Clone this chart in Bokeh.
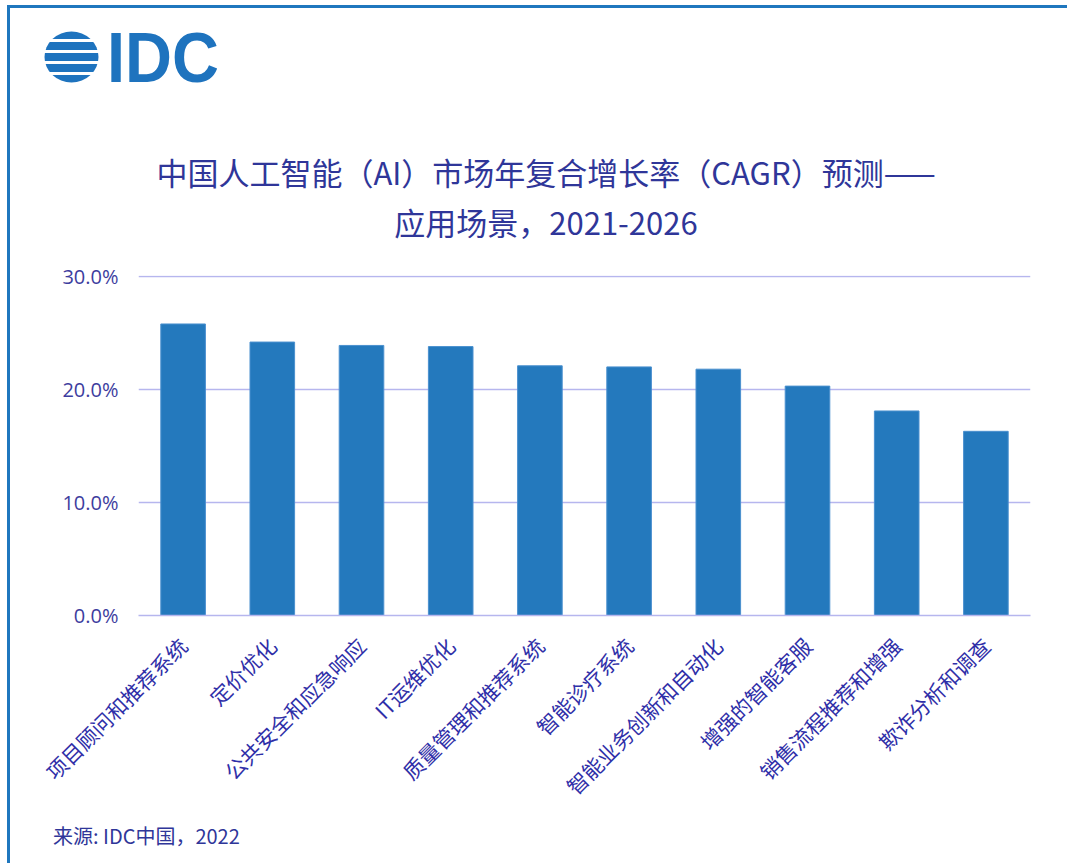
import math
from bokeh.plotting import figure
from bokeh.models import ColumnDataSource
from bokeh.models import FixedTicker, PrintfTickFormatter, Div, Range1d
from bokeh.layouts import column
from bokeh.embed import file_html
from bokeh.resources import INLINE

categories = ["项目顾问和推荐系统", "定价优化", "公共安全和应急响应", "IT运维优化",
              "质量管理和推荐系统", "智能诊疗系统", "智能业务创新和自动化",
              "增强的智能客服", "销售流程推荐和增强", "欺诈分析和调查"]
cagr = [25.8, 24.2, 23.9, 23.8, 22.1, 22.0, 21.8, 20.3, 18.1, 16.3]
y_ticks = [0, 10, 20, 30]
title_lines = ["中国人工智能（AI）市场年复合增长率（CAGR）预测——", "应用场景，2021-2026"]
source_text = "来源: IDC中国，2022"

BLUE = "#2479BD"
NAVY = "#2F3699"
GRID = "#B6B6EE"
CJK = "Noto Sans CJK SC"

src = ColumnDataSource(dict(cat=categories, val=cagr))

p = figure(x_range=categories, y_range=Range1d(0, 30.09), width=1060, height=570,
           output_backend="svg", toolbar_location=None,
           min_border_left=128, min_border_right=40, min_border_top=25, min_border_bottom=205)
p.vbar(x="cat", top="val", width=0.5, source=src, fill_color=BLUE, line_color="#4A90CF", line_width=1)

p.outline_line_color = None
p.background_fill_color = "white"
p.border_fill_color = "white"
p.xgrid.grid_line_color = None
p.ygrid.grid_line_color = GRID
p.ygrid.grid_line_width = 1.5
p.yaxis.ticker = FixedTicker(ticks=y_ticks)
p.yaxis.formatter = PrintfTickFormatter(format="%.1f%%")
p.yaxis.axis_line_color = None
p.yaxis.major_tick_line_color = None
p.yaxis.minor_tick_line_color = None
p.yaxis.major_label_standoff = 14
p.yaxis.major_label_text_font = "Open Sans"
p.yaxis.major_label_text_font_size = "20px"
p.yaxis.major_label_text_color = "#3D3D9E"

p.xaxis.axis_line_color = GRID
p.xaxis.axis_line_width = 1.5
p.xaxis.major_tick_line_color = None
p.xaxis.minor_tick_line_color = None
p.xaxis.major_label_orientation = math.pi / 4
p.xaxis.major_label_standoff = 20
p.xaxis.major_label_text_font = CJK
p.xaxis.major_label_text_font_size = "21px"
p.xaxis.major_label_text_color = "#2F2FA8"

header_html = f"""
<div style="position:relative;width:1060px;height:242px;">
<svg style="position:absolute;left:0;top:0" width="260" height="100" xmlns="http://www.w3.org/2000/svg">
  <defs><clipPath id="cc"><ellipse cx="61.5" cy="49" rx="27" ry="25.5"/></clipPath></defs>
  <g clip-path="url(#cc)" fill="#1E73BE">
    <rect x="30" y="23" width="70" height="8"/>
    <rect x="30" y="34" width="70" height="8"/>
    <rect x="30" y="45" width="70" height="8"/>
    <rect x="30" y="56" width="70" height="8"/>
    <rect x="30" y="67" width="70" height="8"/>
  </g>
  <text x="97" y="74" font-family="Liberation Sans" font-weight="bold" font-size="70"
        fill="#1E73BE" textLength="112" lengthAdjust="spacingAndGlyphs">IDC</text>
</svg>
<div style="position:absolute;left:0;top:139px;width:1072px;text-align:center;font-family:'{CJK}';
            font-size:31px;line-height:50px;color:{NAVY};white-space:nowrap;">
{title_lines[0]}<br>{title_lines[1]}
</div>
</div>
"""
header = Div(text=header_html, width=1060, height=242, margin=(0, 0, 0, 0))

footer_html = f"""
<div style="position:relative;width:1060px;height:46px;">
<div style="position:absolute;left:43px;top:2px;font-family:'{CJK}';font-size:20px;
            line-height:28px;color:{NAVY};white-space:nowrap;">{source_text}</div>
</div>
"""
footer = Div(text=footer_html, width=1060, height=46, margin=(0, 0, 0, 0))

layout = column(header, p, footer, spacing=0, margin=(8, 0, 0, 10),
                styles={"box-shadow": "-3px -3px 0 0 #1F77BE", "background": "white"})

open("out.html", "w").write(file_html(layout, INLINE))
